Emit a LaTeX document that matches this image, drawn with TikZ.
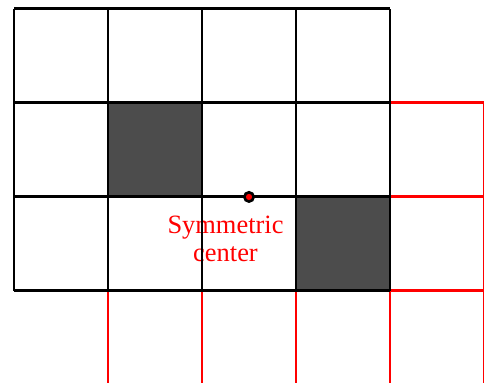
\documentclass[tikz,border=0pt]{standalone}
\usepackage{fontspec}
\setmainfont{Liberation Serif}

\begin{document}
\begin{tikzpicture}[
    gridline/.style={line width=1.8pt},
    cell/.style={fill=black!70},
    tag/.style={font=\fontsize{16}{17}\selectfont, text=red, align=center},
    pt/.style={circle, fill=red, draw=black, line width=1.6pt, inner sep=0pt, minimum size=5.6pt},
  ]

  \def\S{2}

  % frame of the picture
  \useasboundingbox (-0.298,-1.957) rectangle (10,6.19);
  \clip (-0.298,-1.957) rectangle (10,6.19);

  % shaded cells
  \fill[cell] (\S,\S) rectangle (2*\S,2*\S);
  \fill[cell] (3*\S,0) rectangle (4*\S,\S);

  % label of the centre
  \node[tag] (lbl) at (4.5,1.1) {Symmetric\\center};

  % grid turned half a turn round the centre
  \draw[gridline, red] (\S,-\S) grid[step=\S] (5*\S,2*\S);

  % original grid
  \draw[gridline] (0,0) grid[step=\S] (4*\S,3*\S);

  % symmetric centre
  \node[pt] (c) at (2.5*\S,\S) {};

\end{tikzpicture}
\end{document}
